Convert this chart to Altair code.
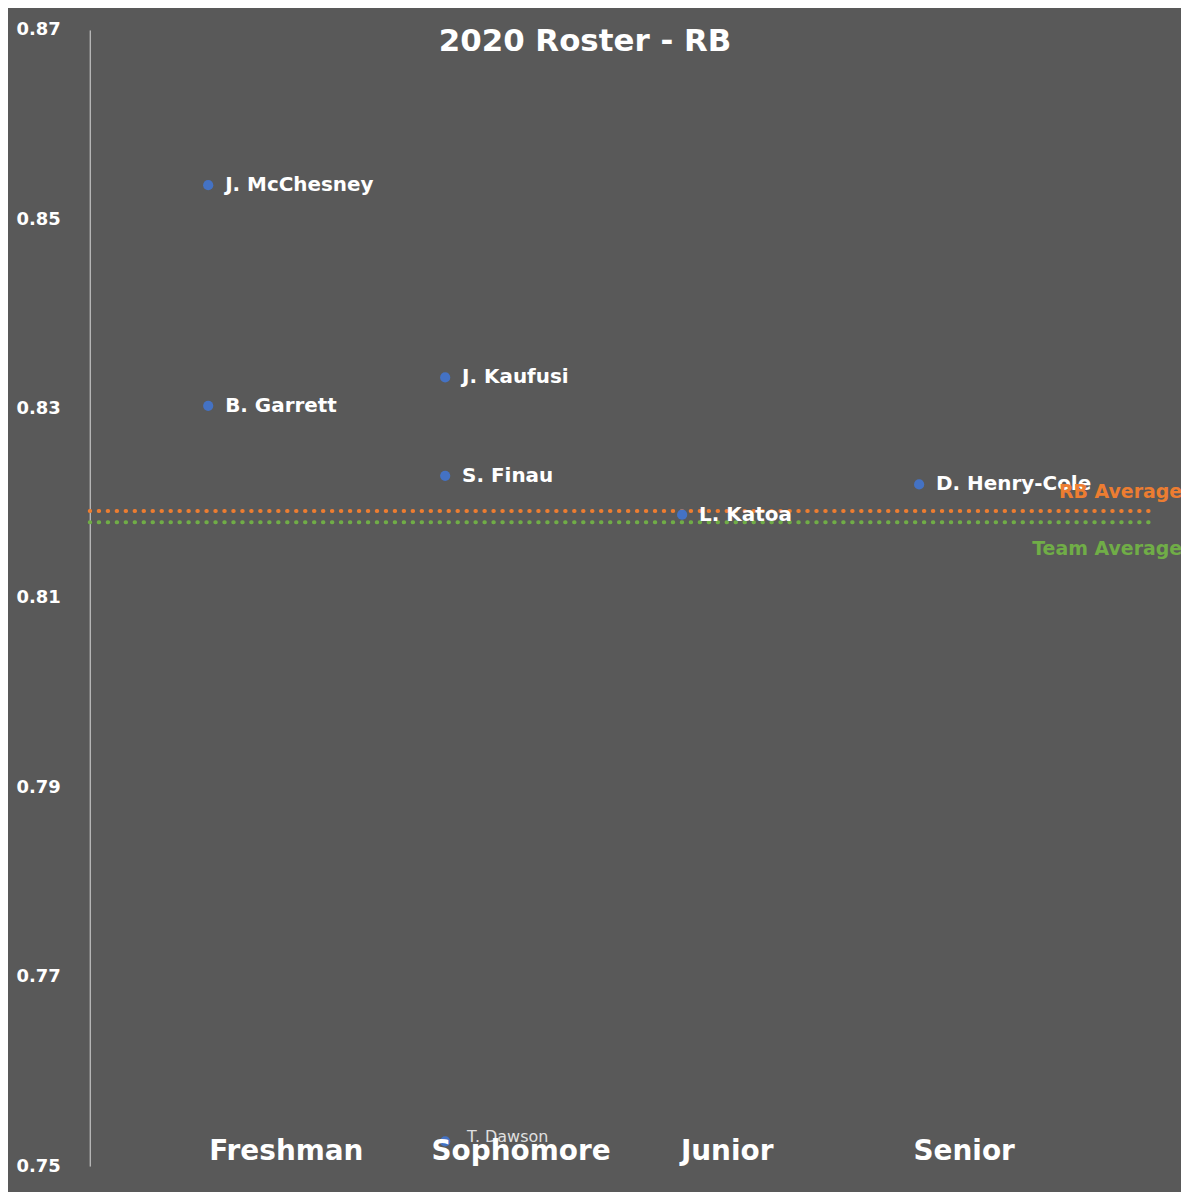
import altair as alt
import pandas as pd

# ---- data ----
players = ["J. McChesney", "B. Garrett", "J. Kaufusi", "S. Finau", "L. Katoa", "D. Henry-Cole"]
class_pos = [1, 1, 2, 2, 3, 4]
ratings = [0.8536, 0.8303, 0.8333, 0.8229, 0.8188, 0.8220]

small_players = ["T. Dawson"]
small_class_pos = [2]
small_ratings = [0.7526]

classes = ["Freshman", "Sophomore", "Junior", "Senior"]
class_label_x = [1.33, 2.32, 3.19, 4.19]
class_label_y = [0.7515, 0.7515, 0.7515, 0.7515]

avg_names = ["RB Average", "Team Average"]
avg_values = [0.8192, 0.8180]
avg_colors = ["#ED7D31", "#70AD47"]
avg_label_y = [0.8212, 0.8152]
avg_x_start = 0.5
avg_x_end = 4.98
avg_label_x = 5.11

y_ticks = [0.75, 0.77, 0.79, 0.81, 0.83, 0.85, 0.87]
title_text = ["2020 Roster - RB"]
title_x = [2.59]
title_y = [0.8687]

FONT = "DejaVu Sans"
BG = "#595959"

pts = pd.DataFrame({"player": players, "cls": class_pos, "rating": ratings})
spts = pd.DataFrame({"player": small_players, "cls": small_class_pos, "rating": small_ratings})
allpts = pd.concat([pts, spts], ignore_index=True)
cls_df = pd.DataFrame({"name": classes, "x": class_label_x, "y": class_label_y})
avg_df = pd.DataFrame({"name": avg_names, "value": avg_values, "col": avg_colors,
                       "x0": [avg_x_start] * 2, "x1": [avg_x_end] * 2,
                       "lx": [avg_label_x] * 2, "ly": avg_label_y})
title_df = pd.DataFrame({"t": title_text, "x": title_x, "y": title_y})

xs = alt.Scale(domain=[0.5, 5.0], nice=False, zero=False)
ys = alt.Scale(domain=[0.75, 0.87], nice=False, zero=False)

yaxis = alt.Axis(values=y_ticks, format=".2f", grid=False, ticks=False,
                 labelAlign="left", labelPadding=74, labelColor="#ffffff",
                 labelFont=FONT, labelFontWeight="bold", labelFontSize=18,
                 domainColor="#d9d9d9", domainWidth=1, title=None)


def X(f):
    return alt.X(f, type="quantitative", scale=xs, axis=None)


def Y(f):
    return alt.Y(f, type="quantitative", scale=ys, axis=yaxis)


avg_lines = alt.Chart(avg_df).mark_rule(strokeWidth=4, strokeDash=[0.5, 8.5], strokeCap="round").encode(
    x=X("x0"), x2="x1", y=Y("value"),
    color=alt.Color("col:N", scale=None, legend=None),
)

base_points = alt.Chart(allpts).mark_point(filled=True, color="#4472C4", size=105, opacity=1).encode(
    x=X("cls"), y=Y("rating"),
)

big_labels = alt.Chart(pts).mark_text(
    align="left", baseline="middle", dx=17, font=FONT, fontWeight="bold", fontSize=20, color="#ffffff"
).encode(x=X("cls"), y=Y("rating"), text="player:N")

small_labels = alt.Chart(spts).mark_text(
    align="left", baseline="middle", dx=22, dy=-4, font=FONT, fontSize=16, color="#e0e0e0"
).encode(x=X("cls"), y=Y("rating"), text="player:N")

avg_labels = alt.Chart(avg_df).mark_text(
    align="right", baseline="middle", font=FONT, fontWeight="bold", fontSize=19
).encode(
    x=X("lx"), y=Y("ly"), text="name:N",
    color=alt.Color("col:N", scale=None, legend=None),
)

cls_labels = alt.Chart(cls_df).mark_text(
    align="center", baseline="middle", font=FONT, fontWeight="bold", fontSize=28, color="#ffffff"
).encode(x=X("x"), y=Y("y"), text="name:N")

title = alt.Chart(title_df).mark_text(
    align="center", baseline="middle", font=FONT, fontWeight="bold", fontSize=31, color="#ffffff"
).encode(x=X("x"), y=Y("y"), text="t:N")

chart = alt.layer(avg_lines, base_points, big_labels, small_labels, avg_labels, cls_labels, title).properties(
    width=1070, height=1140,
    background=BG,
    padding={"left": 82, "top": 20, "right": 25, "bottom": 24},
    autosize=alt.AutoSizeParams(type="none"),
).configure_view(strokeWidth=0)

chart.save("out.html", embed_options={"renderer": "svg", "actions": False})
